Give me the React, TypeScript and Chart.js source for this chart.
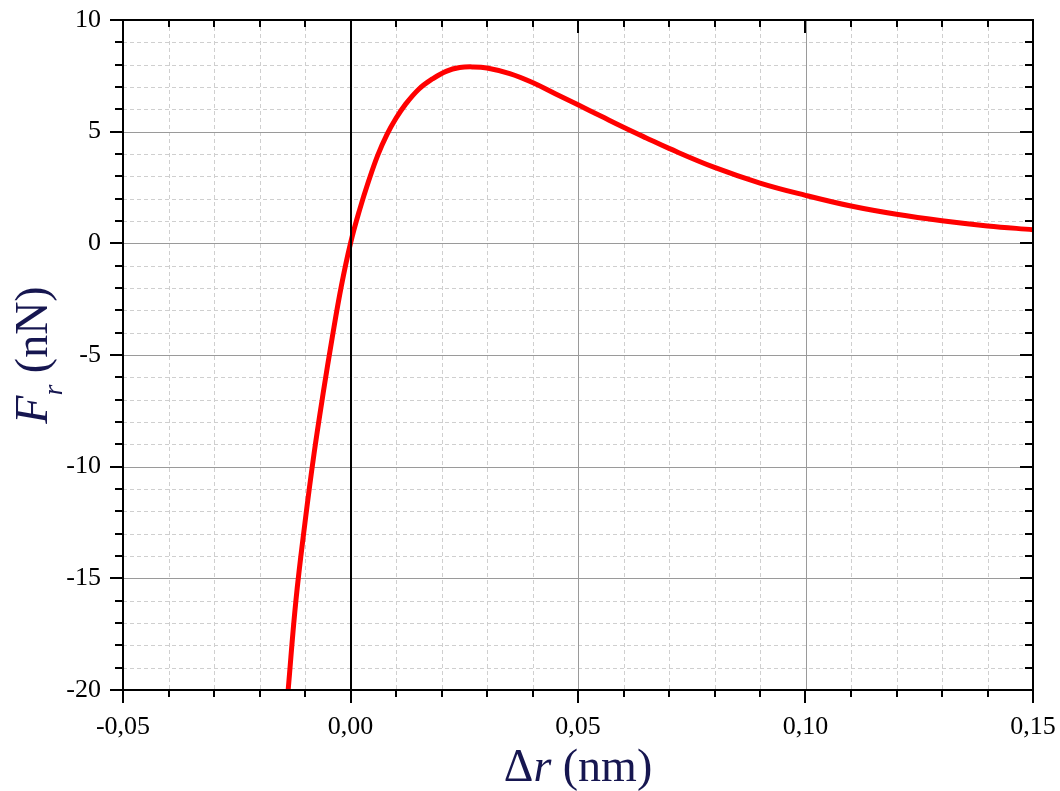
import { useEffect, useRef } from "react";
import { Chart, registerables } from "chart.js";

Chart.register(...registerables);

// Δr (nm) sample positions
const deltaR = [
  -0.0137, -0.012, -0.01, -0.008, -0.006, -0.004, -0.002, 0, 0.002, 0.004,
  0.006, 0.008, 0.01, 0.012, 0.015, 0.018, 0.021, 0.024, 0.027, 0.03, 0.035,
  0.04, 0.045, 0.05, 0.055, 0.06, 0.065, 0.07, 0.08, 0.09, 0.1, 0.11, 0.12,
  0.13, 0.14, 0.15,
];
// F_r (nN)
const forceR = [
  -20.0, -16.0, -12.5, -9.4, -6.7, -4.2, -1.9, 0, 1.5, 2.8, 3.95, 4.87, 5.6,
  6.2, 6.9, 7.36, 7.7, 7.87, 7.9, 7.85, 7.6, 7.2, 6.7, 6.2, 5.7, 5.2, 4.72,
  4.25, 3.4, 2.7, 2.15, 1.67, 1.3, 1.01, 0.78, 0.61,
];

const xTickLabels = [-0.05, 0, 0.05, 0.1, 0.15];
const yTickLabels = [-20, -15, -10, -5, 0, 5, 10];
const xMinorStep = 0.01;
const yMinorStep = 1;

const TITLE_COLOR = "#161650";
const FONT = "'Liberation Serif', 'DejaVu Serif', serif";

const zeroPad = (s: any) => {
  s.paddingLeft = 0;
  s.paddingRight = 0;
  s.paddingTop = 0;
  s.paddingBottom = 0;
};

const gridPlugin = {
  id: "customGrid",
  beforeDatasetsDraw(chart: any) {
    const { ctx, chartArea: a, scales } = chart;
    const x = scales.x;
    const y = scales.y;
    ctx.save();
    // minor dashed grid
    ctx.strokeStyle = "#cfcfcf";
    ctx.lineWidth = 1;
    ctx.setLineDash([4, 3]);
    const nx = Math.round((x.max - x.min) / xMinorStep);
    for (let i = 1; i < nx; i++) {
      if (i % 5 === 0) continue;
      const v = x.min + i * xMinorStep;
      const px = Math.round(x.getPixelForValue(v)) + 0.5;
      ctx.beginPath();
      ctx.moveTo(px, a.top);
      ctx.lineTo(px, a.bottom);
      ctx.stroke();
    }
    const ny = Math.round((y.max - y.min) / yMinorStep);
    for (let i = 1; i < ny; i++) {
      const v = y.min + i * yMinorStep;
      if (v % 5 === 0) continue;
      const py = Math.round(y.getPixelForValue(v)) + 0.5;
      ctx.beginPath();
      ctx.moveTo(a.left, py);
      ctx.lineTo(a.right, py);
      ctx.stroke();
    }
    // major solid grid
    ctx.setLineDash([]);
    ctx.strokeStyle = "#9a9a9a";
    for (const v of xTickLabels) {
      if (v === 0) continue;
      const px = Math.round(x.getPixelForValue(v)) + 0.5;
      ctx.beginPath();
      ctx.moveTo(px, a.top);
      ctx.lineTo(px, a.bottom);
      ctx.stroke();
    }
    for (const v of yTickLabels) {
      const py = Math.round(y.getPixelForValue(v)) + 0.5;
      ctx.beginPath();
      ctx.moveTo(a.left, py);
      ctx.lineTo(a.right, py);
      ctx.stroke();
    }
    ctx.restore();
  },
  afterDatasetsDraw(chart: any) {
    const { ctx, chartArea: a, scales } = chart;
    const x = scales.x;
    const y = scales.y;
    ctx.save();
    ctx.strokeStyle = "#000";
    ctx.lineWidth = 2;
    ctx.setLineDash([]);
    const line = (x1: number, y1: number, x2: number, y2: number) => {
      ctx.beginPath();
      ctx.moveTo(x1, y1);
      ctx.lineTo(x2, y2);
      ctx.stroke();
    };
    // zero vertical line
    const zx = Math.round(x.getPixelForValue(0));
    line(zx, a.top, zx, a.bottom);
    // x ticks
    const nx = Math.round((x.max - x.min) / xMinorStep);
    for (let i = 0; i <= nx; i++) {
      const v = x.min + i * xMinorStep;
      const major = i % 5 === 0;
      const px = Math.round(x.getPixelForValue(v));
      line(px, a.bottom, px, a.bottom + (major ? 13 : 7));
      line(px, a.top, px, a.top + (major ? 13 : 7));
    }
    // y ticks
    const ny = Math.round((y.max - y.min) / yMinorStep);
    for (let i = 0; i <= ny; i++) {
      const v = y.min + i * yMinorStep;
      const major = v % 5 === 0;
      const py = Math.round(y.getPixelForValue(v));
      line(a.left - (major ? 13 : 8), py, a.left, py);
      line(a.right - (major ? 13 : 8), py, a.right, py);
    }
    // frame
    ctx.strokeRect(Math.round(a.left), Math.round(a.top), Math.round(a.right - a.left), Math.round(a.bottom - a.top));
    ctx.restore();
  },
  afterDraw(chart: any) {
    const { ctx, chartArea: a } = chart;
    ctx.save();
    ctx.fillStyle = TITLE_COLOR;
    ctx.textBaseline = "alphabetic";
    ctx.textAlign = "left";
    const up = `46px ${FONT}`;
    const it = `italic 46px ${FONT}`;
    // x title: Δr (nm)
    const parts: [string, string, number][] = [
      ["Δ", up, 0],
      ["r", it, 0],
      [" (nm)", up, 0],
    ];
    let total = 0;
    for (const [t, f] of parts) {
      ctx.font = f;
      total += ctx.measureText(t).width;
    }
    let cx = (a.left + a.right) / 2 - total / 2;
    for (const [t, f, dy] of parts) {
      ctx.font = f;
      ctx.fillText(t, cx, 781 + dy);
      cx += ctx.measureText(t).width;
    }
    // y title: F_r (nN)
    const yparts: [string, string, number][] = [
      ["F", it, 0],
      ["r", `italic 28px ${FONT}`, 15],
      [" (nN)", up, 0],
    ];
    total = 0;
    for (const [t, f] of yparts) {
      ctx.font = f;
      total += ctx.measureText(t).width;
    }
    ctx.translate(47, (a.top + a.bottom) / 2);
    ctx.rotate(-Math.PI / 2);
    cx = -total / 2;
    for (const [t, f, dy] of yparts) {
      ctx.font = f;
      ctx.fillText(t, cx, dy);
      cx += ctx.measureText(t).width;
    }
    ctx.restore();
  },
};

export default function App() {
  const ref = useRef<HTMLCanvasElement | null>(null);
  useEffect(() => {
    if (!ref.current) return;
    const chart = new Chart(ref.current, {
      type: "scatter",
      data: {
        datasets: [
          {
            data: deltaR.map((v, i) => ({ x: v, y: forceR[i] })),
            showLine: true,
            borderColor: "#ff0000",
            backgroundColor: "#ff0000",
            borderWidth: 5,
            pointRadius: 0,
            tension: 0.4,
            fill: false,
          },
        ],
      },
      options: {
        animation: false,
        responsive: false,
        devicePixelRatio: 1,
        layout: { padding: { left: 0, top: 20, right: 27, bottom: 0 } },
        plugins: { legend: { display: false }, tooltip: { enabled: false } },
        scales: {
          x: {
            type: "linear",
            min: -0.05,
            max: 0.15,
            afterBuildTicks: (s: any) => {
              s.ticks = xTickLabels.map((v) => ({ value: v }));
            },
            afterFit: (s: any) => {
              s.height = 101;
              zeroPad(s);
            },
            ticks: {
              autoSkip: false,
              maxRotation: 0,
              padding: 22,
              color: "#000",
              font: { family: FONT, size: 26 },
              callback: (v: any) => Number(v).toFixed(2).replace(".", ","),
            },
            grid: { display: false, drawTicks: false },
            border: { display: false },
          },
          y: {
            type: "linear",
            min: -20,
            max: 10,
            afterBuildTicks: (s: any) => {
              s.ticks = yTickLabels.map((v) => ({ value: v }));
            },
            afterFit: (s: any) => {
              s.width = 123;
              zeroPad(s);
            },
            ticks: {
              autoSkip: false,
              padding: 22,
              color: "#000",
              font: { family: FONT, size: 26 },
              callback: (v: any) => `${v}`,
            },
            grid: { display: false, drawTicks: false },
            border: { display: false },
          },
        },
      },
      plugins: [gridPlugin],
    } as any);
    return () => chart.destroy();
  }, []);
  return (
    <div style={{ position: "fixed", left: 0, top: 0, width: 1060, height: 791, background: "#fff" }}>
      <canvas ref={ref} width={1060} height={791} style={{ width: 1060, height: 791, display: "block" }} />
    </div>
  );
}
